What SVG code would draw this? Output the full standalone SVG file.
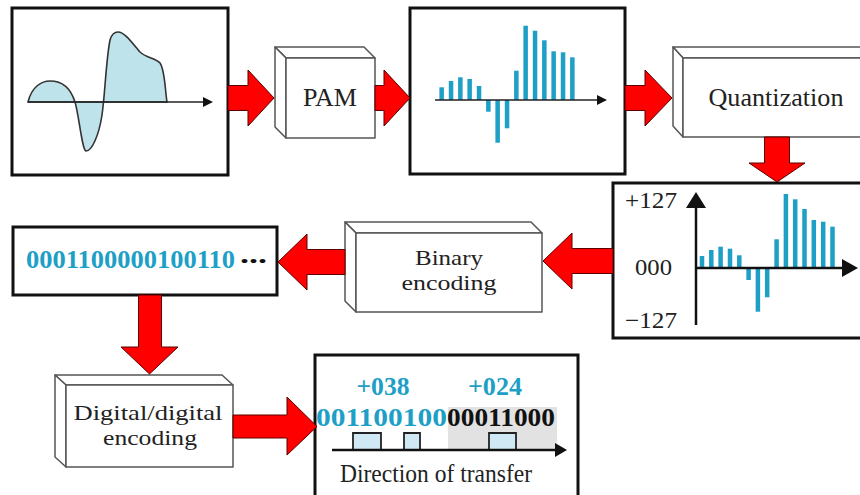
<svg xmlns="http://www.w3.org/2000/svg" width="860" height="495" viewBox="0 0 860 495">
<style>
.panel{fill:#fff;stroke:#111;stroke-width:3}
.face{fill:#fff;stroke:#555;stroke-width:1.5;stroke-linejoin:round}
.lbl{font-family:"Liberation Serif","Times New Roman",serif;font-size:25px;fill:#222;text-anchor:middle}
.lbl2{font-size:22px}
.num{font-family:"Liberation Serif","Times New Roman",serif;font-size:23px;fill:#222}
.bits{font-family:"Liberation Serif","Times New Roman",serif;font-size:25px;font-weight:bold;fill:#1e9fc6}
.bk{fill:#111}
.bar{fill:#1e9fc6}
.arrow{fill:#ff0000;stroke:#5a0000;stroke-width:1;stroke-linejoin:miter}
.axis{stroke:#222;stroke-width:1.5;fill:none}
.axis3{stroke:#111;stroke-width:2.5;fill:none}
.pulse{fill:#cfe8f3;stroke:#222;stroke-width:1.8}
</style>

<g id="analog-signal">
<rect class="panel" x="12" y="8" width="216" height="167"/>
<path d="M28,102 C32,86 42,81 50,81 C60,81 70,86 75,102 C79,115 82,150 86,151 C92,151 99,135 102,115 C105,95 106,60 110,40 C112,33 115,32 118,32 C124,32 130,40 140,52 C146,58 156,58 160,63 C165,70 165,90 167,102 Z" fill="#bfe3eb" stroke="#333" stroke-width="1.6"/>
<line class="axis" x1="28" y1="102" x2="205" y2="102"/>
<polygon points="203,97 213,102 203,107" fill="#111"/>
</g>

<g id="pam">
<polygon class="face" points="275,47 364,47 375,58 286,58"/>
<polygon class="face" points="275,47 286,58 286,138 275,127"/>
<rect class="face" x="286" y="58" width="89" height="80"/>
<text class="lbl" x="330" y="106" textLength="54" lengthAdjust="spacingAndGlyphs">PAM</text>
</g>

<g id="pam-samples">
<rect class="panel" x="410" y="8" width="215" height="166"/>
<rect class="bar" x="439.4" y="87.3" width="4.5" height="12.7"/>
<rect class="bar" x="448.8" y="81" width="4.5" height="19"/>
<rect class="bar" x="458.1" y="77.3" width="4.5" height="22.7"/>
<rect class="bar" x="467.4" y="79" width="4.5" height="21"/>
<rect class="bar" x="476.8" y="86" width="4.5" height="14"/>
<rect class="bar" x="486.1" y="100" width="4.5" height="11.7"/>
<rect class="bar" x="495.4" y="100" width="4.5" height="42.7"/>
<rect class="bar" x="504.8" y="100" width="4.5" height="28.3"/>
<rect class="bar" x="514.1" y="70.7" width="4.5" height="29.3"/>
<rect class="bar" x="523.4" y="25.7" width="4.5" height="74.3"/>
<rect class="bar" x="532.8" y="30.7" width="4.5" height="69.3"/>
<rect class="bar" x="542.1" y="40.3" width="4.5" height="59.7"/>
<rect class="bar" x="551.4" y="51.3" width="4.5" height="48.7"/>
<rect class="bar" x="560.8" y="52.3" width="4.5" height="47.7"/>
<rect class="bar" x="570.1" y="57.3" width="4.5" height="42.7"/>
<line class="axis" x1="435" y1="100" x2="599" y2="100"/>
<polygon points="597,95 607,100 597,105" fill="#111"/>
</g>

<g id="quantization">
<polygon class="face" points="673,47 870,47 880,58 683,58"/>
<polygon class="face" points="673,47 683,58 683,137 673,126"/>
<rect class="face" x="683" y="58" width="190" height="79"/>
<text class="lbl" x="776" y="106" textLength="135" lengthAdjust="spacingAndGlyphs">Quantization</text>
</g>

<g id="quantized-samples">
<rect class="panel" x="613" y="183" width="252" height="155"/>
<text class="num" x="625" y="208" textLength="52" lengthAdjust="spacingAndGlyphs">+127</text>
<text class="num" x="635" y="275" textLength="37" lengthAdjust="spacingAndGlyphs">000</text>
<text class="num" x="625" y="328" textLength="52" lengthAdjust="spacingAndGlyphs">−127</text>
<rect class="bar" x="699.75" y="256" width="4.5" height="12"/>
<rect class="bar" x="709.05" y="250" width="4.5" height="18"/>
<rect class="bar" x="718.35" y="246.7" width="4.5" height="21.3"/>
<rect class="bar" x="727.75" y="248.7" width="4.5" height="19.3"/>
<rect class="bar" x="737.05" y="255.3" width="4.5" height="12.7"/>
<rect class="bar" x="746.35" y="268" width="4.5" height="12"/>
<rect class="bar" x="755.65" y="268" width="4.5" height="43.7"/>
<rect class="bar" x="764.95" y="268" width="4.5" height="29.3"/>
<rect class="bar" x="774.35" y="239.3" width="4.5" height="28.7"/>
<rect class="bar" x="783.65" y="194" width="4.5" height="74"/>
<rect class="bar" x="792.95" y="199.3" width="4.5" height="68.7"/>
<rect class="bar" x="802.25" y="209" width="4.5" height="59"/>
<rect class="bar" x="811.55" y="220" width="4.5" height="48"/>
<rect class="bar" x="820.95" y="221.7" width="4.5" height="46.3"/>
<rect class="bar" x="830.25" y="226.7" width="4.5" height="41.3"/>
<line class="axis3" x1="696" y1="325" x2="696" y2="205"/>
<polygon points="686,208 696,192 706,208" fill="#111"/>
<line class="axis3" x1="696" y1="268" x2="845" y2="268"/>
<polygon points="842,259 858,268 842,277" fill="#111"/>
</g>

<g id="binary-encoding">
<polygon class="face" points="345,222 531,222 542,233 356,233"/>
<polygon class="face" points="345,222 356,233 356,312 345,301"/>
<rect class="face" x="356" y="233" width="186" height="79"/>
<text class="lbl lbl2" x="449" y="265" textLength="68" lengthAdjust="spacingAndGlyphs">Binary</text>
<text class="lbl lbl2" x="449" y="290" textLength="95" lengthAdjust="spacingAndGlyphs">encoding</text>
</g>

<g id="bit-stream">
<rect class="panel" x="13" y="227" width="264" height="68"/>
<text class="bits" x="26" y="268" textLength="209" lengthAdjust="spacingAndGlyphs">0001100000100110</text>
<text class="bits bk" x="240" y="263" textLength="27" lengthAdjust="spacingAndGlyphs">...</text>
</g>

<g id="digital-encoding">
<polygon class="face" points="55,375 222,375 233,385 66,385"/>
<polygon class="face" points="55,375 66,385 66,467 55,457"/>
<rect class="face" x="66" y="385" width="167" height="82"/>
<text class="lbl lbl2" x="148" y="420" textLength="149" lengthAdjust="spacingAndGlyphs">Digital/digital</text>
<text class="lbl lbl2" x="150" y="445" textLength="94" lengthAdjust="spacingAndGlyphs">encoding</text>
</g>

<g id="digital-signal">
<rect class="panel" x="315" y="355" width="263" height="150"/>
<rect x="448" y="407" width="109" height="43" fill="#e2e2e2"/>
<text class="bits" x="383" y="395" text-anchor="middle" textLength="53" lengthAdjust="spacingAndGlyphs">+038</text>
<text class="bits" x="495" y="395" text-anchor="middle" textLength="54" lengthAdjust="spacingAndGlyphs">+024</text>
<text class="bits" x="316" y="426" textLength="131" lengthAdjust="spacingAndGlyphs">001100100</text>
<text class="bits bk" x="447" y="426" textLength="108" lengthAdjust="spacingAndGlyphs">00011000</text>
<polyline class="pulse" points="353,450 353,433 381,433 381,450"/>
<polyline class="pulse" points="404,450 404,433 420,433 420,450"/>
<polyline class="pulse" points="489,450 489,433 516,433 516,450"/>
<line x1="332" y1="450" x2="557" y2="450" stroke="#111" stroke-width="2.5"/>
<polygon points="555,443 567,450 555,457" fill="#111"/>
<text class="lbl" x="436" y="482" textLength="192" lengthAdjust="spacingAndGlyphs">Direction of transfer</text>
</g>

<g id="connectors">
<polygon class="arrow" points="228,85.5 248,85.5 248,70 274,98 248,126 248,110.5 228,110.5"/>
<polygon class="arrow" points="375,85.5 384,85.5 384,70 410,98 384,126 384,110.5 375,110.5"/>
<polygon class="arrow" points="625,85.5 645,85.5 645,70 672,98 645,126 645,110.5 625,110.5"/>
<polygon class="arrow" points="764.5,137 789.5,137 789.5,163 805,163 777,182 749,163 764.5,163"/>
<polygon class="arrow" points="613,248.5 572,248.5 572,233 543,261 572,289 572,273.5 613,273.5"/>
<polygon class="arrow" points="345,249.5 307,249.5 307,234 278,262 307,290 307,274.5 345,274.5"/>
<polygon class="arrow" points="138.5,295 161.5,295 161.5,347 178,347 149.5,374 121,347 138.5,347"/>
<polygon class="arrow" points="233,415 287,415 287,397 317,426.5 287,455 287,438 233,438"/>
</g>
</svg>
